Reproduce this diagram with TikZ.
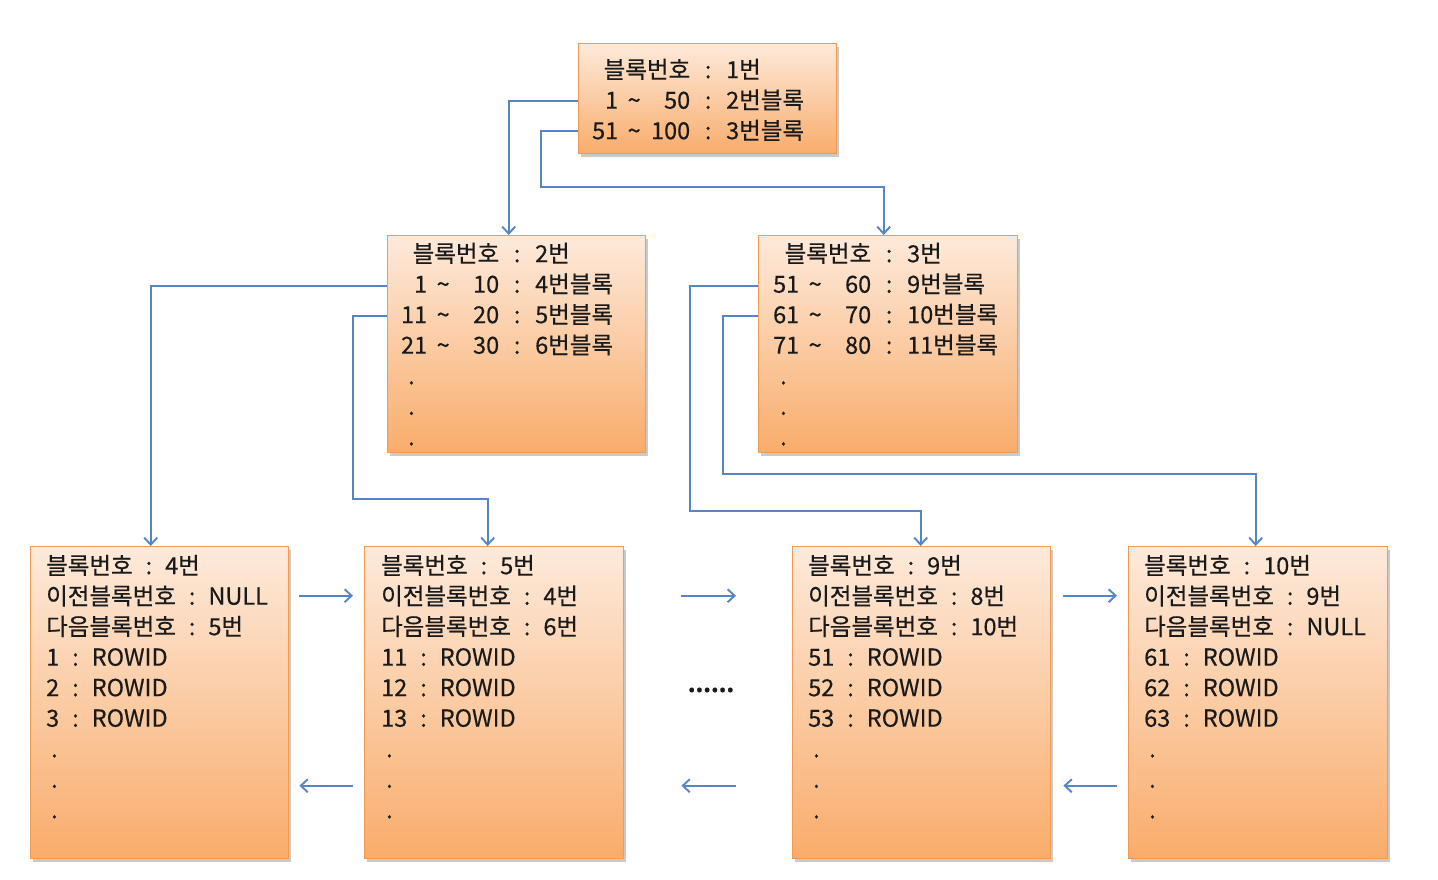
\documentclass[tikz,border=0pt]{standalone}
\usepackage{fontspec}
\setmainfont{Noto Sans CJK KR}[FakeBold=0.35]
\usetikzlibrary{arrows.meta,shadows}
\definecolor{boxtop}{HTML}{FDEADB}
\definecolor{boxbot}{HTML}{F9AC6B}
\definecolor{boxline}{HTML}{F29A4F}
\definecolor{linkblue}{HTML}{5585C4}
\definecolor{txtcol}{HTML}{1A1A1A}
\newcommand\fstrut{\vrule height 22pt depth 0pt width 0pt}
\newcommand\hdr[1]{\fstrut\makebox[96pt][r]{블록번호}\makebox[36pt]{:}#1}
\newcommand\rng[3]{\makebox[24pt][r]{#1}\makebox[32pt]{\textasciitilde}\makebox[40pt][r]{#2}\makebox[36pt]{:}#3}
\newcommand\kv[2]{#1\hspace{13pt}:\hspace{13pt}#2}
\newcommand\dt{\hspace{5pt}.}
\tikzset{
  blk/.style={draw=boxline, line width=1.4pt, top color=boxtop, bottom color=boxbot,
    inner sep=0pt, anchor=north west,
    drop shadow={shadow xshift=2pt, shadow yshift=-3pt, opacity=0.35, fill=black!60}},
  txt/.style={anchor=north west, inner sep=0pt, align=left, text=txtcol,
    font=\fontsize{23.5}{30.5}\selectfont},
  conn/.style={draw=linkblue, line width=1.9pt,
    -{Straight Barb[length=7pt,width=13pt]}},
}
\begin{document}
\begin{tikzpicture}[x=1pt,y=-1pt]
\useasboundingbox (0,0) rectangle (1438,880);
% boxes
\node[blk, minimum width=258, minimum height=110] (b1) at (578,43) {};
\node[blk, minimum width=258, minimum height=217] (b2) at (387,235) {};
\node[blk, minimum width=259, minimum height=217] (b3) at (758,235) {};
\node[blk, minimum width=258, minimum height=312] (b4) at (30,546) {};
\node[blk, minimum width=259, minimum height=312] (b5) at (364,546) {};
\node[blk, minimum width=258, minimum height=312] (b9) at (792,546) {};
\node[blk, minimum width=259, minimum height=312] (b10) at (1128,546) {};
% texts
\node[txt] (t1) at (594,56) {\hdr{1번}\\ \rng{1}{50}{2번블록}\\ \rng{51}{100}{3번블록}};
\node[txt] (t2) at (403,240) {\hdr{2번}\\ \rng{1}{10}{4번블록}\\ \rng{11}{20}{5번블록}\\ \rng{21}{30}{6번블록}\\ \dt\\ \dt\\ \dt};
\node[txt] (t3) at (775,240) {\hdr{3번}\\ \rng{51}{60}{9번블록}\\ \rng{61}{70}{10번블록}\\ \rng{71}{80}{11번블록}\\ \dt\\ \dt\\ \dt};
\node[txt] (t4) at (46,552) {\fstrut\kv{블록번호}{4번}\\ \kv{이전블록번호}{NULL}\\ \kv{다음블록번호}{5번}\\ \kv{1}{ROWID}\\ \kv{2}{ROWID}\\ \kv{3}{ROWID}\\ \dt\\ \dt\\ \dt};
\node[txt] (t5) at (381,552) {\fstrut\kv{블록번호}{5번}\\ \kv{이전블록번호}{4번}\\ \kv{다음블록번호}{6번}\\ \kv{11}{ROWID}\\ \kv{12}{ROWID}\\ \kv{13}{ROWID}\\ \dt\\ \dt\\ \dt};
\node[txt] (t9) at (808,552) {\fstrut\kv{블록번호}{9번}\\ \kv{이전블록번호}{8번}\\ \kv{다음블록번호}{10번}\\ \kv{51}{ROWID}\\ \kv{52}{ROWID}\\ \kv{53}{ROWID}\\ \dt\\ \dt\\ \dt};
\node[txt] (t10) at (1144,552) {\fstrut\kv{블록번호}{10번}\\ \kv{이전블록번호}{9번}\\ \kv{다음블록번호}{NULL}\\ \kv{61}{ROWID}\\ \kv{62}{ROWID}\\ \kv{63}{ROWID}\\ \dt\\ \dt\\ \dt};
\node[txt, anchor=center, font=\fontsize{22}{28}\selectfont\bfseries] (gap) at (711,690) {......};
% tree links
\draw[conn] ([shift={(0,2)}]b1.west) -| ([shift={(-8,0)}]b2.north);
\draw[conn] ([shift={(0,32)}]b1.west) -- ++(-37,0) -- ++(0,56) -| ([shift={(-4.5,0)}]b3.north);
\draw[conn] ([shift={(0,-58.5)}]b2.west) -| ([shift={(-9,0)}]b4.north);
\draw[conn] ([shift={(0,-28.5)}]b2.west) -- ++(-34,0) -- ++(0,183.5) -| ([shift={(-6.5,0)}]b5.north);
\draw[conn] ([shift={(0,-58.5)}]b3.west) -- ++(-68,0) -- ++(0,225) -| ([shift={(-1,0)}]b9.north);
\draw[conn] ([shift={(0,-28.5)}]b3.west) -- ++(-35,0) -- ++(0,158) -| ([shift={(-2.5,0)}]b10.north);
% sibling links
\draw[conn] ([shift={(10,-107)}]b4.east) -- ([shift={(-11,-107)}]b5.west);
\draw[conn] ([shift={(-11,83)}]b5.west) -- ([shift={(10,83)}]b4.east);
\draw[conn] ([shift={(57,-107)}]b5.east) -- ([shift={(-56,-107)}]b9.west);
\draw[conn] ([shift={(-56,83)}]b9.west) -- ([shift={(57,83)}]b5.east);
\draw[conn] ([shift={(12,-107)}]b9.east) -- ([shift={(-11,-107)}]b10.west);
\draw[conn] ([shift={(-11,83)}]b10.west) -- ([shift={(12,83)}]b9.east);
\end{tikzpicture}
\end{document}
